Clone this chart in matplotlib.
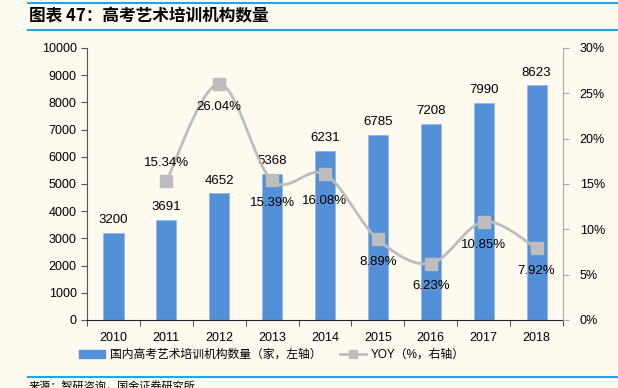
import numpy as np
import matplotlib
matplotlib.use("Agg")
import matplotlib.pyplot as plt
from matplotlib.lines import Line2D
from matplotlib.patches import Patch

plt.rcParams["font.family"] = ["Liberation Sans", "Noto Sans CJK SC"]

# ── Data ─────────────────────────────────────────────────────────────────────
years = ["2010", "2011", "2012", "2013", "2014", "2015", "2016", "2017", "2018"]
counts = [3200, 3691, 4652, 5368, 6231, 6785, 7208, 7990, 8623]
yoy_years = ["2011", "2012", "2013", "2014", "2015", "2016", "2017", "2018"]
yoy = [15.34, 26.04, 15.39, 16.08, 8.89, 6.23, 10.85, 7.92]

BG = "#FEFAF0"
BAR = "#5390D8"
LINE = "#BDBDBD"
RULE = "#1EA6E6"


def smooth(xs, ys, n=30):
    """Excel-style smoothed line (Catmull-Rom as cubic Bezier)."""
    xs, ys = np.asarray(xs, float), np.asarray(ys, float)
    px = np.concatenate([[xs[0]], xs, [xs[-1]]])
    py = np.concatenate([[ys[0]], ys, [ys[-1]]])
    outx, outy = [], []
    t = np.linspace(0, 1, n)
    for i in range(1, len(px) - 2):
        p0 = np.array([px[i], py[i]])
        p3 = np.array([px[i + 1], py[i + 1]])
        c1 = p0 + (np.array([px[i + 1], py[i + 1]]) - np.array([px[i - 1], py[i - 1]])) / 6
        c2 = p3 - (np.array([px[i + 2], py[i + 2]]) - np.array([px[i], py[i]])) / 6
        b = ((1 - t) ** 3)[:, None] * p0 + (3 * (1 - t) ** 2 * t)[:, None] * c1 \
            + (3 * (1 - t) * t ** 2)[:, None] * c2 + (t ** 3)[:, None] * p3
        outx.extend(b[:, 0]); outy.extend(b[:, 1])
    return outx, outy


fig = plt.figure(figsize=(6.18, 3.88), dpi=100, facecolor=BG)
ax = fig.add_axes([0.1408, 0.1753, 0.7702, 0.701])
ax.set_facecolor(BG)

x = np.arange(len(years))
ax.bar(x, counts, width=0.38, color=BAR, edgecolor="#8DB3E2", linewidth=0.4, zorder=2)
for xi, v in zip(x, counts):
    ax.annotate(str(v), (xi, v), xytext=(0, 5), textcoords="offset points",
                ha="center", va="bottom", fontsize=9.5)

ax.set_xlim(-0.5, len(years) - 0.5)
ax.set_ylim(0, 10000)
ax.set_yticks(range(0, 10001, 1000))
ax.set_xticks(x)
ax.set_xticklabels(years)
ax.set_xticks(np.arange(-0.5, len(years)), minor=True)
ax.tick_params(axis="x", which="major", length=0, labelsize=9, pad=9)
ax.tick_params(axis="x", which="minor", length=4, color="#333333", direction="out")
ax.tick_params(axis="y", length=4, labelsize=9, color="#555555", direction="out")
for s in ["top", "right"]:
    ax.spines[s].set_visible(False)
ax.spines["left"].set_color("#555555")
ax.spines["bottom"].set_color("#222222")

ax2 = ax.twinx()
xi2 = [years.index(y) for y in yoy_years]
sx, sy = smooth(xi2, yoy)
ax2.plot(sx, sy, color=LINE, lw=2, zorder=3)
ax2.plot(xi2, yoy, ls="none", marker="s", ms=9, color=LINE, zorder=4)
label_off = {"2011": 13, "2014": -19}
for xx, yr, v in zip(xi2, yoy_years, yoy):
    off = label_off.get(yr, -16.5)
    ax2.annotate(f"{v:.2f}%", (xx, v), xytext=(0, off), textcoords="offset points",
                 ha="center", va="center", fontsize=9.5)
ax2.set_ylim(0, 30)
ax2.set_yticks(range(0, 31, 5))
ax2.set_yticklabels([f"{t}%" for t in range(0, 31, 5)])
ax2.tick_params(axis="y", length=4, labelsize=9, color="#AAAAAA", direction="out", pad=8)
for s in ["top", "left", "bottom"]:
    ax2.spines[s].set_visible(False)
ax2.spines["right"].set_color("#AAAAAA")

handles = [Patch(color=BAR, label="国内高考艺术培训机构数量（家，左轴）"),
           Line2D([], [], color=LINE, lw=2, marker="s", ms=6, label="YOY（%，右轴）")]
fig.legend(handles=handles, loc="center", bbox_to_anchor=(0.44, 0.085), ncol=2,
           frameon=False, fontsize=8.5, handlelength=2.2, columnspacing=1.6,
           handletextpad=0.4)

# title block and rules
fig.add_artist(Line2D([0.045, 1.0], [1 - 3 / 388] * 2, color=RULE, lw=1.5))
fig.add_artist(Line2D([0.045, 1.0], [1 - 30 / 388] * 2, color=RULE, lw=1.5))
fig.text(0.047, 1 - 16 / 388, "图表 47：高考艺术培训机构数量", fontsize=12,
         fontweight="bold", style="italic", va="center", ha="left",
         family=["Noto Sans CJK SC", "DejaVu Sans"])
fig.add_artist(Line2D([0.045, 1.0], [1 - 377 / 388] * 2, color=RULE, lw=1.5))
fig.text(0.047, -4 / 388, "来源：智研咨询，国金证券研究所", fontsize=8,
         va="bottom", ha="left", family=["Noto Sans CJK SC", "DejaVu Sans"])

fig.savefig("out.png", dpi=100, facecolor=BG)
